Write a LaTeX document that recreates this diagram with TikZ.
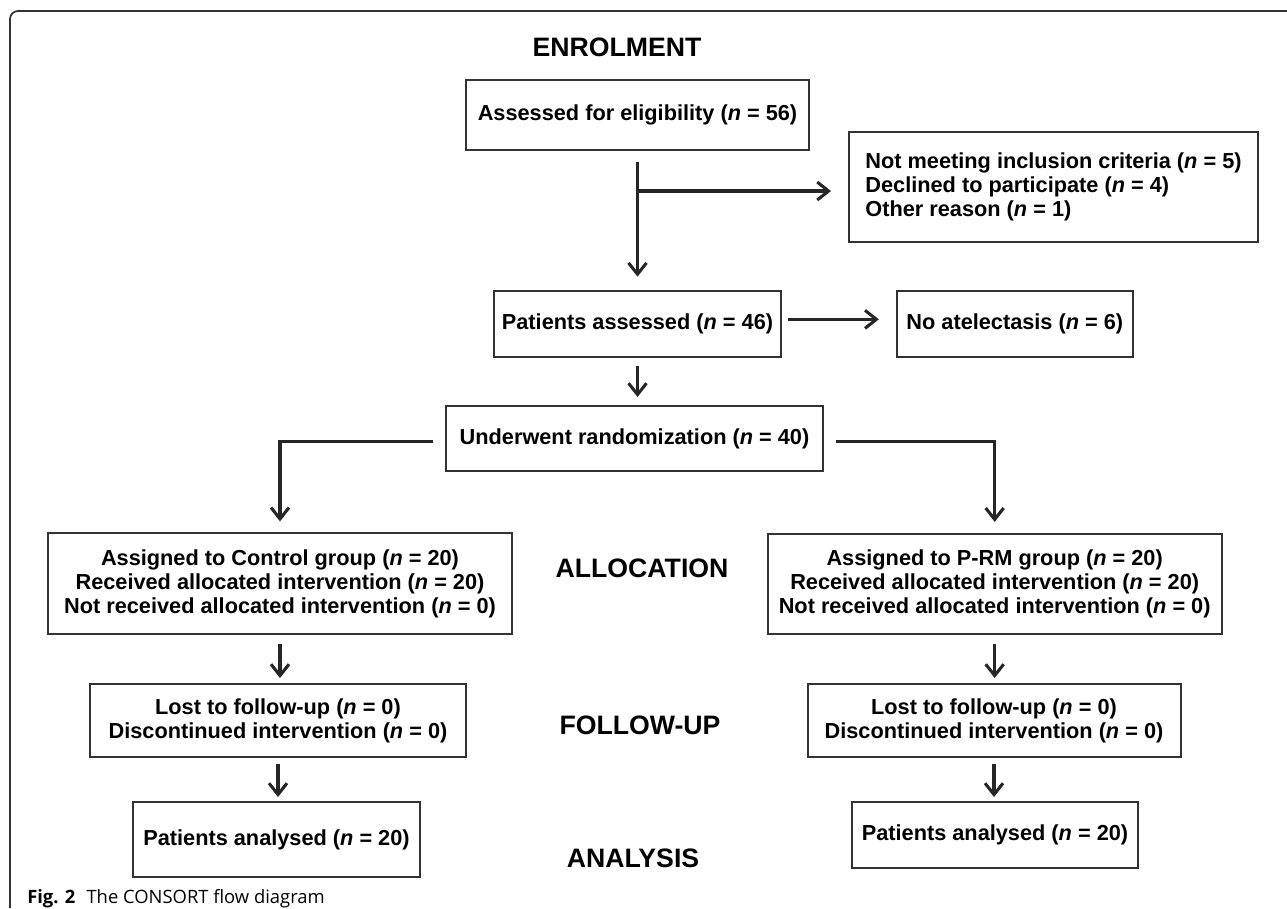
\documentclass[tikz,border=0pt]{standalone}
\usepackage{fontspec}
\setmainfont{Liberation Sans}
\newfontfamily\capfont{Open Sans}
\usetikzlibrary{arrows.meta}

\newcommand{\nval}[1]{(\textit{n} = #1)}

\tikzset{
  box/.style={draw=black!80,line width=1.5pt,align=center,inner sep=0pt,font=\fontsize{16.3}{18}\selectfont\bfseries},
  arr/.style={draw=black!85,line width=2.3pt,-{Straight Barb[length=8.5pt,width=13.5pt]}},
  stage/.style={font=\fontsize{20}{22}\selectfont\bfseries},
}

\begin{document}
\begin{tikzpicture}[x=0.75pt,y=-0.75pt]
\useasboundingbox (0,0) rectangle (1287,908);
\draw[black!80,line width=1.3pt,rounded corners=6pt] (10,908) -- (10,11) -- (1287,11);

\node[stage] (enrol) at (617,47) {ENROLMENT};
\node[stage] (alloc) at (642,568) {ALLOCATION};
\node[stage] (follow) at (640,725) {FOLLOW-UP};
\node[stage] (analysis) at (633,858) {ANALYSIS};

\node[box,minimum width=257pt,minimum height=52.5pt] (assess) at (637.5,115) {Assessed for eligibility \nval{56}};
\node[box,align=left,minimum width=306.75pt,minimum height=82.5pt] (excl) at (1053.5,187) {Not meeting inclusion criteria \nval{5}\\Declined to participate \nval{4}\\Other reason \nval{1}};
\node[box,minimum width=215.25pt,minimum height=49.5pt] (patients) at (637.5,324) {Patients assessed \nval{46}};
\node[box,minimum width=177pt,minimum height=49.5pt] (noatel) [right of=patients,node distance=283pt] {No atelectasis \nval{6}};
\node[box,minimum width=282.75pt,minimum height=48.75pt] (random) at (634.5,438.5) {Underwent randomization \nval{40}};

\node[box,minimum width=348pt,minimum height=75.75pt] (control) at (280,583.5) {Assigned to Control group \nval{20}\\Received allocated intervention \nval{20}\\Not received allocated intervention \nval{0}};
\node[box,minimum width=340.5pt,minimum height=75pt] (prm) [right of=control,node distance=536pt] {Assigned to P-RM group \nval{20}\\Received allocated intervention \nval{20}\\Not received allocated intervention \nval{0}};
\node[box,minimum width=282pt,minimum height=54.75pt] (fuL) at (278,720.5) {Lost to follow-up \nval{0}\\Discontinued intervention \nval{0}};
\node[box,minimum width=279.75pt,minimum height=54.75pt] (fuR) [right of=fuL,node distance=537pt] {Lost to follow-up \nval{0}\\Discontinued intervention \nval{0}};
\node[box,minimum width=215.25pt,minimum height=56.25pt] (anL) at (276.5,839.5) {Patients analysed \nval{20}};
\node[box,minimum width=214.5pt,minimum height=49.5pt] (anR) at (995,835) {Patients analysed \nval{20}};

% enrolment
\coordinate (split) at (637.5,191);
\draw[arr,shorten <=8pt,shorten >=10pt] (assess.south) -- (patients.north);
\draw[arr,shorten >=12.75pt] (split) -- (split -| excl.west);
\draw[arr,shorten <=4.5pt,shorten >=12.75pt] ([yshift=3.5pt]patients.east) -- ([yshift=3.5pt]patients.east -| noatel.west);
\draw[arr,shorten <=6pt,shorten >=6pt] (patients.south) -- (patients.south |- random.north);

% allocation
\draw[arr,shorten <=9pt,shorten >=8pt] ([yshift=-2pt]random.west) -| (control.north);
\draw[arr,shorten <=9pt,shorten >=8pt] ([yshift=-2pt]random.east) -| (prm.north);

% follow-up and analysis
\draw[arr,shorten <=6.75pt,shorten >=3.75pt] (control.south) -- (control.south |- fuL.north);
\draw[arr,shorten <=6.75pt,shorten >=3.75pt] (prm.south) -- (prm.south |- fuR.north);
\draw[arr,shorten <=4.5pt,shorten >=3pt] (fuL.south) -- (fuL.south |- anL.north);
\draw[arr,shorten <=4.5pt,shorten >=3pt] (fuR.south) -- (fuR.south |- anR.north);

\node[anchor=base west,inner sep=0pt,font=\capfont\fontsize{13.8}{16}\selectfont] (caption) at (27,903) {\textbf{Fig. 2}\hspace{0.6em}The CONSORT flow diagram};
\end{tikzpicture}
\end{document}
